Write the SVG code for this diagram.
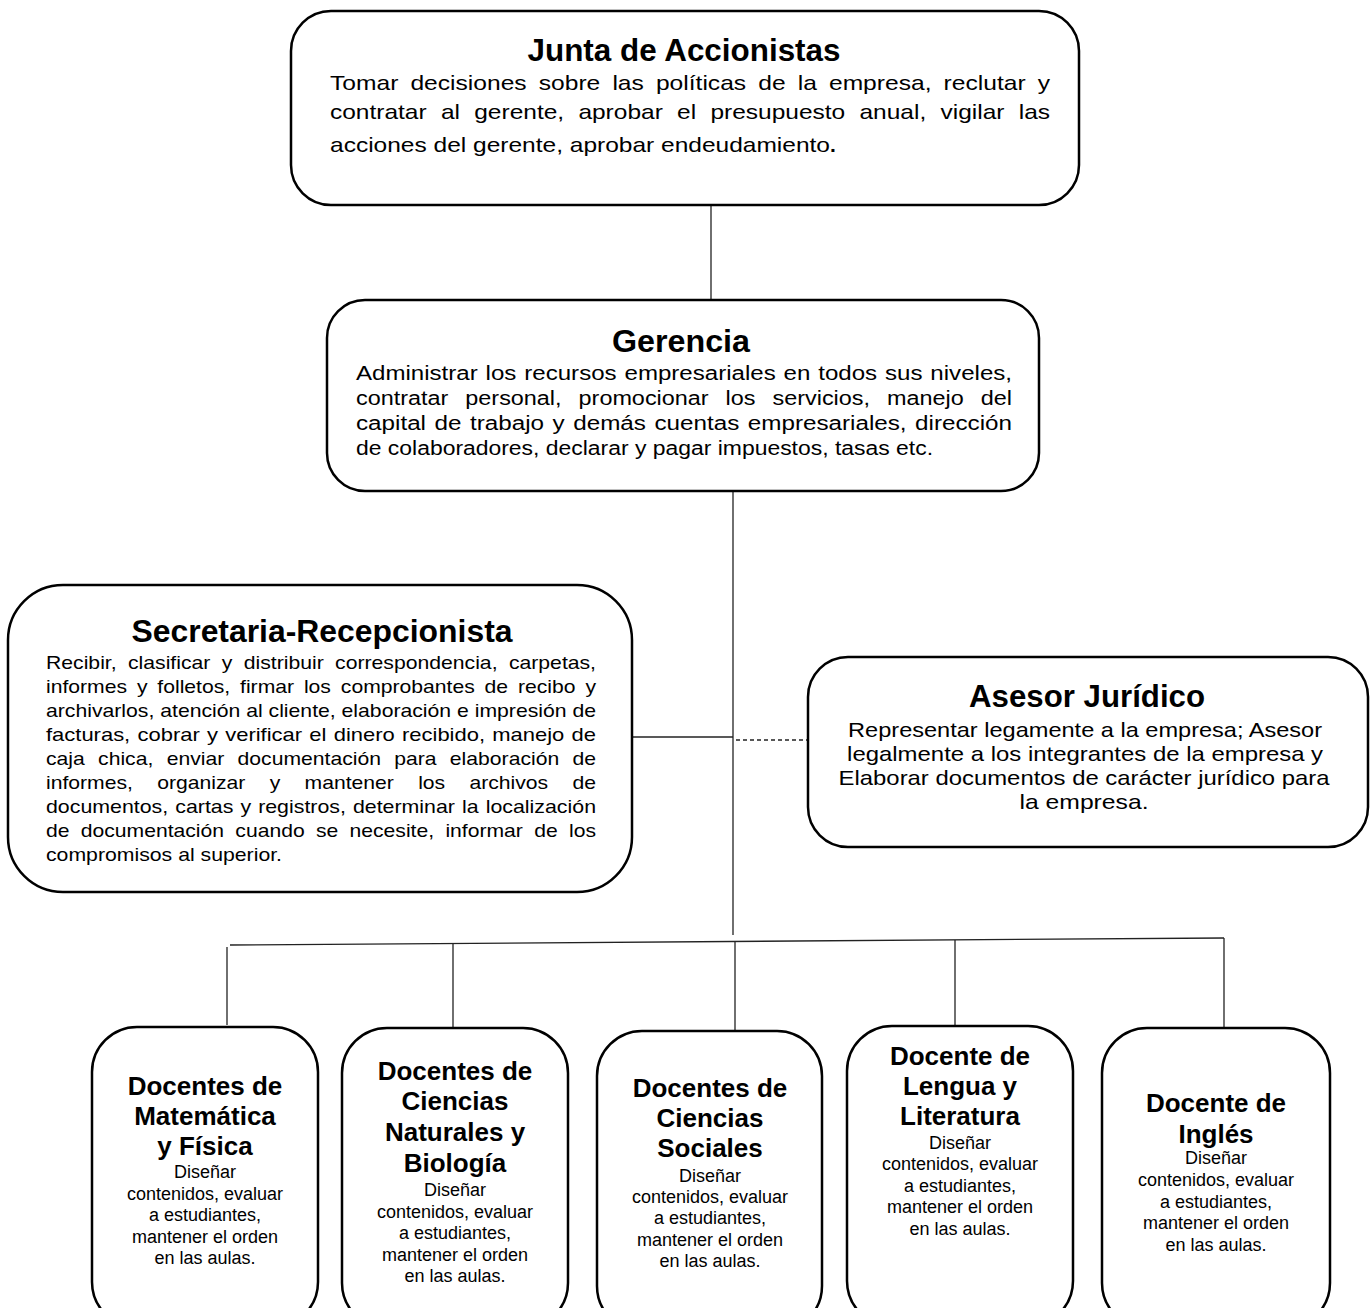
<svg xmlns="http://www.w3.org/2000/svg" width="1370" height="1308" viewBox="0 0 1370 1308">
<style>
.box{fill:#fff;stroke:#000;stroke-width:2.5}
.ln{stroke:#222;stroke-width:1.3;fill:none}
.dash{stroke:#222;stroke-width:1.3;fill:none;stroke-dasharray:4 3}
text{font-family:"Liberation Sans",Arial,sans-serif;fill:#000}
.t{font-weight:bold;font-size:31px;text-anchor:middle}
.dt{font-weight:bold;font-size:26px;text-anchor:middle}
.db{font-size:18px;text-anchor:middle}
.b21{font-size:21px}
.b20{font-size:20px}
.b19{font-size:19px}
.c{text-anchor:middle}
</style>
<rect width="1370" height="1308" fill="#fff"/>
<g id="connectors">
<line class="ln" x1="711" y1="205" x2="711" y2="300"/>
<line class="ln" x1="733" y1="491" x2="733" y2="935"/>
<line class="ln" x1="632" y1="737" x2="733" y2="737"/>
<line class="dash" x1="736" y1="740" x2="808" y2="740"/>
<line class="ln" x1="230" y1="945" x2="1224" y2="938"/>
<line class="ln" x1="227" y1="947" x2="227" y2="1025"/>
<line class="ln" x1="453" y1="944" x2="453" y2="1028"/>
<line class="ln" x1="735" y1="942" x2="735" y2="1035"/>
<line class="ln" x1="955" y1="940" x2="955" y2="1027"/>
<line class="ln" x1="1224" y1="938" x2="1224" y2="1027"/>
</g>
<g id="junta">
<rect class="box" x="291" y="11" width="788" height="194" rx="40"/>
<text class="t" x="684" y="61" textLength="313" lengthAdjust="spacingAndGlyphs">Junta de Accionistas</text>
<text class="b21">
<tspan x="330" y="90" style="word-spacing:4.5px" textLength="720" lengthAdjust="spacingAndGlyphs">Tomar decisiones sobre las políticas de la empresa, reclutar y</tspan>
<tspan x="330" y="119" style="word-spacing:6.4px" textLength="720" lengthAdjust="spacingAndGlyphs">contratar al gerente, aprobar el presupuesto anual, vigilar las</tspan>
<tspan x="330" y="152" textLength="500" lengthAdjust="spacingAndGlyphs">acciones del gerente, aprobar endeudamiento</tspan><tspan font-weight="bold" x="830" y="152">.</tspan>
</text>
</g>
<g id="gerencia">
<rect class="box" x="327" y="300" width="712" height="191" rx="38"/>
<text class="t" x="681" y="352" textLength="138" lengthAdjust="spacingAndGlyphs">Gerencia</text>
<text class="b20">
<tspan x="356" y="380" style="word-spacing:1px" textLength="656" lengthAdjust="spacingAndGlyphs">Administrar los recursos empresariales en todos sus niveles,</tspan>
<tspan x="356" y="405" style="word-spacing:9px" textLength="656" lengthAdjust="spacingAndGlyphs">contratar personal, promocionar los servicios, manejo del</tspan>
<tspan x="356" y="430" style="word-spacing:1.5px" textLength="656" lengthAdjust="spacingAndGlyphs">capital de trabajo y demás cuentas empresariales, dirección</tspan>
<tspan x="356" y="455" textLength="577" lengthAdjust="spacingAndGlyphs">de colaboradores, declarar y pagar impuestos, tasas etc.</tspan>
</text>
</g>
<g id="secretaria">
<rect class="box" x="8" y="585" width="624" height="307" rx="55"/>
<text class="t" x="322" y="642" textLength="381" lengthAdjust="spacingAndGlyphs">Secretaria-Recepcionista</text>
<text class="b19">
<tspan x="46" y="669" style="word-spacing:4.95px" textLength="550" lengthAdjust="spacingAndGlyphs">Recibir, clasificar y distribuir correspondencia, carpetas,</tspan>
<tspan x="46" y="693" style="word-spacing:3.6px" textLength="550" lengthAdjust="spacingAndGlyphs">informes y folletos, firmar los comprobantes de recibo y</tspan>
<tspan x="46" y="717" textLength="550" lengthAdjust="spacingAndGlyphs">archivarlos, atención al cliente, elaboración e impresión de</tspan>
<tspan x="46" y="741" style="word-spacing:1px" textLength="550" lengthAdjust="spacingAndGlyphs">facturas, cobrar y verificar el dinero recibido, manejo de</tspan>
<tspan x="46" y="765" style="word-spacing:6.7px" textLength="550" lengthAdjust="spacingAndGlyphs">caja chica, enviar documentación para elaboración de</tspan>
<tspan x="46" y="789" style="word-spacing:16.6px" textLength="550" lengthAdjust="spacingAndGlyphs">informes, organizar y mantener los archivos de</tspan>
<tspan x="46" y="813" style="word-spacing:1px" textLength="550" lengthAdjust="spacingAndGlyphs">documentos, cartas y registros, determinar la localización</tspan>
<tspan x="46" y="837" style="word-spacing:4.9px" textLength="550" lengthAdjust="spacingAndGlyphs">de documentación cuando se necesite, informar de los</tspan>
<tspan x="46" y="861" textLength="236" lengthAdjust="spacingAndGlyphs">compromisos al superior.</tspan>
</text>
</g>
<g id="asesor">
<rect class="box" x="808" y="657" width="560" height="190" rx="40"/>
<text class="t" x="1087" y="707" textLength="236" lengthAdjust="spacingAndGlyphs">Asesor Jurídico</text>
<text class="b21 c">
<tspan x="1088" y="737" textLength="474" lengthAdjust="spacingAndGlyphs">Representar legamente a la empresa; Asesor</tspan>
<tspan x="1088" y="761" textLength="476" lengthAdjust="spacingAndGlyphs">legalmente a los integrantes de la empresa y</tspan>
<tspan x="1087" y="785" textLength="491" lengthAdjust="spacingAndGlyphs">Elaborar documentos de carácter jurídico para</tspan>
<tspan x="1084" y="809" textLength="129" lengthAdjust="spacingAndGlyphs">la empresa.</tspan>
</text>
</g>
<g id="docente-matematica">
<rect class="box" x="92" y="1027" width="226" height="300" rx="45"/>
<text class="dt"><tspan x="205" y="1095">Docentes de</tspan><tspan x="205" y="1125">Matemática</tspan><tspan x="205" y="1155">y Física</tspan></text>
<text class="db"><tspan x="205" y="1178">Diseñar</tspan><tspan x="205" y="1200">contenidos, evaluar</tspan><tspan x="205" y="1221">a estudiantes,</tspan><tspan x="205" y="1243">mantener el orden</tspan><tspan x="205" y="1264">en las aulas.</tspan></text>
</g>
<g id="docente-naturales">
<rect class="box" x="342" y="1028" width="226" height="300" rx="45"/>
<text class="dt"><tspan x="455" y="1080">Docentes de</tspan><tspan x="455" y="1110">Ciencias</tspan><tspan x="455" y="1141">Naturales y</tspan><tspan x="455" y="1172">Biología</tspan></text>
<text class="db"><tspan x="455" y="1196">Diseñar</tspan><tspan x="455" y="1218">contenidos, evaluar</tspan><tspan x="455" y="1239">a estudiantes,</tspan><tspan x="455" y="1261">mantener el orden</tspan><tspan x="455" y="1282">en las aulas.</tspan></text>
</g>
<g id="docente-sociales">
<rect class="box" x="597" y="1031" width="225" height="300" rx="45"/>
<text class="dt"><tspan x="710" y="1097">Docentes de</tspan><tspan x="710" y="1127">Ciencias</tspan><tspan x="710" y="1157">Sociales</tspan></text>
<text class="db"><tspan x="710" y="1182">Diseñar</tspan><tspan x="710" y="1203">contenidos, evaluar</tspan><tspan x="710" y="1224">a estudiantes,</tspan><tspan x="710" y="1246">mantener el orden</tspan><tspan x="710" y="1267">en las aulas.</tspan></text>
</g>
<g id="docente-lengua">
<rect class="box" x="847" y="1026" width="226" height="300" rx="45"/>
<text class="dt"><tspan x="960" y="1065">Docente de</tspan><tspan x="960" y="1095">Lengua y</tspan><tspan x="960" y="1125">Literatura</tspan></text>
<text class="db"><tspan x="960" y="1149">Diseñar</tspan><tspan x="960" y="1170">contenidos, evaluar</tspan><tspan x="960" y="1192">a estudiantes,</tspan><tspan x="960" y="1213">mantener el orden</tspan><tspan x="960" y="1235">en las aulas.</tspan></text>
</g>
<g id="docente-ingles">
<rect class="box" x="1102" y="1028" width="228" height="300" rx="45"/>
<text class="dt"><tspan x="1216" y="1112">Docente de</tspan><tspan x="1216" y="1143">Inglés</tspan></text>
<text class="db"><tspan x="1216" y="1164">Diseñar</tspan><tspan x="1216" y="1186">contenidos, evaluar</tspan><tspan x="1216" y="1208">a estudiantes,</tspan><tspan x="1216" y="1229">mantener el orden</tspan><tspan x="1216" y="1251">en las aulas.</tspan></text>
</g>
</svg>
